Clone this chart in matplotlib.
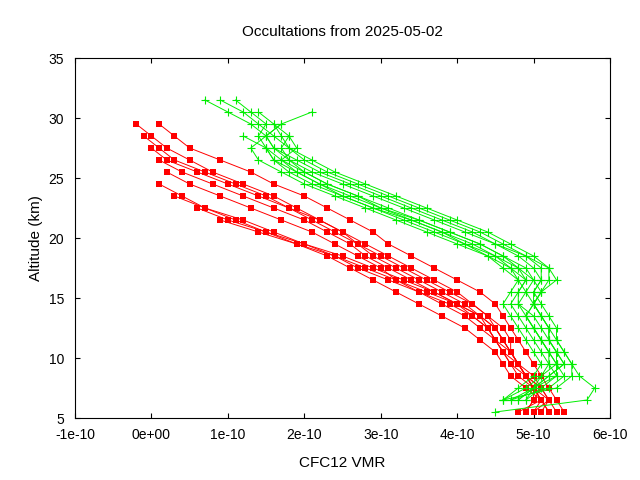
import numpy as np
import matplotlib
matplotlib.use("Agg")
import matplotlib.pyplot as plt

plt.rcParams["font.family"] = "Liberation Sans"

# CFC12 VMR profiles, values in units of 1e-10, listed from the top altitude downwards (1 km steps)
red_tops = [29.5, 29.5, 28.5, 27.5, 26.5, 25.5, 24.5, 23.5, 22.5, 21.5]
red_profiles = [
    [-0.2, 0.0, 0.2, 0.5, 0.8, 1.2, 1.6, 1.9, 2.2, 2.5, 2.8, 3.1, 3.4, 3.7, 4.0, 4.2, 4.4, 4.6, 4.7, 4.7, 4.8, 4.9, 5.0, 5.1, 5.2],
    [0.1, 0.3, 0.5, 0.9, 1.3, 1.6, 2.0, 2.3, 2.6, 2.9, 3.1, 3.4, 3.7, 4.0, 4.3, 4.5, 4.6, 4.7, 4.8, 4.9, 5.0, 5.1, 5.2, 5.3, 5.4],
    [-0.1, 0.1, 0.3, 0.7, 1.1, 1.5, 1.8, 2.2, 2.5, 2.7, 3.0, 3.3, 3.6, 3.9, 4.2, 4.4, 4.5, 4.6, 4.7, 4.8, 4.9, 5.0, 5.0, 4.9],
    [0.0, 0.2, 0.6, 1.0, 1.4, 1.8, 2.1, 2.4, 2.7, 2.9, 3.2, 3.5, 3.8, 4.1, 4.3, 4.5, 4.6, 4.7, 4.8, 4.9, 5.1, 5.2, 5.0],
    [0.1, 0.4, 0.8, 1.2, 1.6, 2.0, 2.3, 2.6, 2.8, 3.1, 3.4, 3.7, 4.0, 4.2, 4.4, 4.5, 4.6, 4.8, 4.9, 5.0, 5.1, 4.8],
    [0.2, 0.5, 0.9, 1.3, 1.7, 2.1, 2.4, 2.7, 3.0, 3.2, 3.5, 3.8, 4.1, 4.3, 4.5, 4.6, 4.7, 4.8, 5.0, 5.1, 5.0],
    [0.1, 0.4, 0.7, 1.1, 1.5, 1.9, 2.3, 2.6, 2.9, 3.2, 3.5, 3.8, 4.1, 4.3, 4.5, 4.6, 4.7, 4.9, 5.1, 5.2],
    [0.3, 0.7, 1.2, 1.6, 2.0, 2.4, 2.7, 3.1, 3.5, 3.9, 4.2, 4.4, 4.5, 4.6, 4.7, 4.9, 5.0, 5.2, 5.1],
    [0.6, 1.0, 1.5, 2.0, 2.5, 2.9, 3.3, 3.7, 4.0, 4.3, 4.4, 4.5, 4.7, 4.8, 5.0, 5.1, 5.0, 4.9],
    [0.9, 1.4, 1.9, 2.4, 2.8, 3.2, 3.6, 4.0, 4.3, 4.5, 4.6, 4.7, 4.8, 4.9, 5.1, 5.2, 5.3],
]
green_tops = [31.5, 31.5, 31.5, 30.5, 30.5, 29.5, 29.5, 28.5, 28.5, 27.5]
green_profiles = [
    [0.7, 1.0, 1.3, 1.5, 1.6, 1.8, 2.1, 2.5, 2.9, 3.3, 3.7, 4.1, 4.5, 4.9, 5.1, 5.1, 5.0, 5.1, 5.2, 5.3, 5.3, 5.4, 5.5, 5.6, 5.8, 5.7, 4.5],
    [0.9, 1.2, 1.4, 1.6, 1.8, 2.1, 2.4, 2.8, 3.2, 3.6, 4.0, 4.4, 4.7, 5.0, 5.2, 5.2, 5.1, 5.0, 5.1, 5.2, 5.3, 5.4, 5.5, 5.5, 5.3, 4.6],
    [1.1, 1.3, 1.5, 1.4, 1.5, 1.7, 2.0, 2.3, 2.7, 3.1, 3.5, 3.9, 4.3, 4.6, 4.9, 5.0, 4.9, 4.8, 5.0, 5.1, 5.2, 5.3, 5.3, 5.4, 5.2, 4.7],
    [2.1, 1.7, 1.5, 1.6, 1.9, 2.2, 2.6, 3.0, 3.4, 3.8, 4.2, 4.5, 4.8, 5.0, 5.1, 5.0, 5.0, 5.1, 5.2, 5.2, 5.3, 5.4, 5.2, 5.0, 4.8],
    [1.4, 1.6, 1.7, 1.8, 2.0, 2.3, 2.7, 3.1, 3.5, 3.9, 4.3, 4.6, 4.9, 5.2, 5.3, 5.1, 5.0, 4.9, 5.0, 5.1, 5.2, 5.3, 5.3, 5.1, 4.9],
    [1.7, 1.5, 1.3, 1.4, 1.7, 2.0, 2.4, 2.8, 3.2, 3.6, 4.0, 4.4, 4.7, 4.9, 4.8, 4.8, 4.9, 5.0, 5.1, 5.2, 5.2, 5.3, 5.0, 4.8],
    [1.6, 1.8, 1.9, 1.7, 1.9, 2.2, 2.5, 2.9, 3.4, 3.8, 4.1, 4.4, 4.6, 4.8, 4.9, 5.0, 5.1, 5.2, 5.2, 5.3, 5.4, 5.2, 5.0, 4.9],
    [1.2, 1.5, 1.6, 1.8, 2.1, 2.5, 2.9, 3.3, 3.7, 4.1, 4.5, 4.8, 5.0, 5.1, 5.0, 4.9, 5.0, 5.1, 5.2, 5.3, 5.1, 5.0, 4.7],
    [1.8, 1.7, 1.8, 2.0, 2.3, 2.7, 3.0, 3.5, 3.9, 4.3, 4.6, 4.8, 4.9, 4.8, 4.7, 4.8, 4.9, 5.0, 5.1, 5.2, 5.1, 4.9, 4.6],
    [1.5, 1.6, 1.9, 2.2, 2.6, 3.0, 3.4, 3.8, 4.2, 4.5, 4.7, 4.8, 4.7, 4.6, 4.7, 4.8, 4.9, 5.0, 5.1, 5.0, 4.8, 4.6],
]

fig = plt.figure(figsize=(6.4, 4.8), dpi=100)
ax = fig.add_axes([75 / 640, 62 / 480, 535 / 640, 360 / 480])

for top, vals in zip(red_tops, red_profiles):
    alt = top - np.arange(len(vals))
    ax.plot(np.array(vals) * 1e-10, alt, color="#ff0000", lw=0.7, marker="s", ms=5, mew=0)
for top, vals in zip(green_tops, green_profiles):
    alt = top - np.arange(len(vals))
    ax.plot(np.array(vals) * 1e-10, alt, color="#00ee00", lw=0.7, marker="+", ms=6, mew=0.8)

ax.set_xlim(-1e-10, 6e-10)
ax.set_ylim(5, 35)
xt = np.arange(-1, 7) * 1e-10
ax.set_xticks(xt)
ax.set_xticklabels(["-1e-10", "0e+00", "1e-10", "2e-10", "3e-10", "4e-10", "5e-10", "6e-10"])
ax.set_yticks(np.arange(5, 36, 5))
ax.tick_params(direction="in", top=True, right=True, labelsize=10)
ax.tick_params(axis="x", pad=7)
ax.tick_params(axis="y", pad=8)
ax.set_xlabel("CFC12 VMR", fontsize=11, labelpad=10)
ax.set_ylabel("Altitude (km)", fontsize=11)
ax.set_title("Occultations from 2025-05-02", fontsize=11, pad=16)
fig.savefig("out.png")
